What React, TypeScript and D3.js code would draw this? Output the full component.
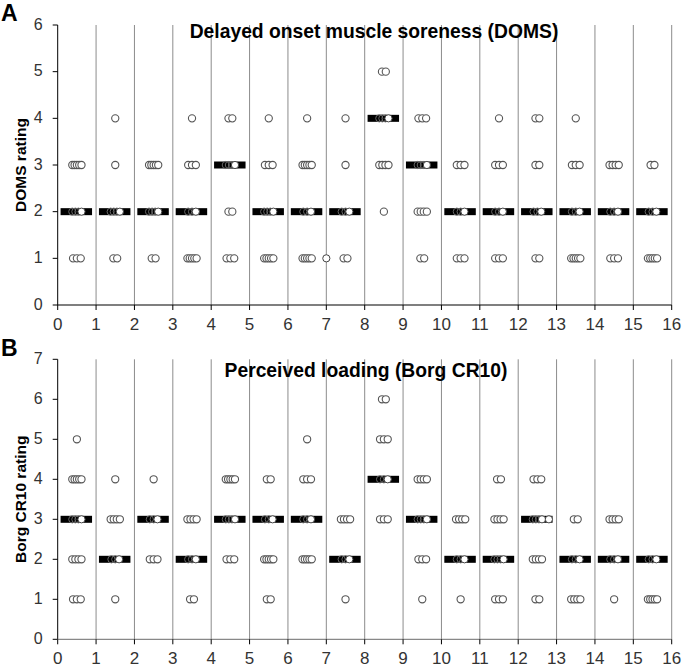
import React from "react";
import * as d3 from "d3";

// ---- data ----
const sessions = d3.range(16); // group index 0..15 (plotted between i and i+1)
const xTicks = d3.range(0, 17);

// counts of participants per rating level (index = rating 0..6)
const domsCounts: number[][] = [
  [0, 3, 4, 5, 0, 0],
  [0, 2, 4, 1, 1, 0],
  [0, 2, 4, 5, 0, 0],
  [0, 5, 3, 3, 1, 0],
  [0, 3, 2, 4, 2, 0],
  [0, 5, 4, 3, 1, 0],
  [0, 5, 3, 5, 1, 0],
  [0, 2, 3, 1, 1, 0],
  [0, 0, 1, 4, 4, 2],
  [0, 2, 4, 4, 3, 0],
  [0, 3, 3, 3, 0, 0],
  [0, 3, 3, 3, 1, 0],
  [0, 2, 3, 2, 2, 0],
  [0, 5, 3, 3, 1, 0],
  [0, 3, 3, 4, 0, 0],
  [0, 5, 3, 2, 0, 0],
];
const domsMedian = [2, 2, 2, 2, 3, 2, 2, 2, 4, 3, 2, 2, 2, 2, 2, 2];
const domsExtraX = [7.0];
const domsExtraY = [1];
const domsYTicks = [0, 1, 2, 3, 4, 5, 6];

const borgCounts: number[][] = [
  [0, 3, 4, 4, 5, 1, 0],
  [0, 1, 3, 4, 1, 0, 0],
  [0, 0, 3, 3, 1, 0, 0],
  [0, 2, 3, 4, 0, 0, 0],
  [0, 0, 3, 4, 5, 0, 0],
  [0, 2, 5, 3, 2, 0, 0],
  [0, 0, 5, 3, 3, 1, 0],
  [0, 1, 3, 4, 0, 0, 0],
  [0, 0, 0, 3, 3, 3, 2],
  [0, 1, 3, 4, 4, 0, 0],
  [0, 1, 3, 4, 0, 0, 0],
  [0, 3, 4, 4, 2, 0, 0],
  [0, 2, 4, 4, 3, 0, 0],
  [0, 4, 3, 2, 0, 0, 0],
  [0, 1, 3, 4, 0, 0, 0],
  [0, 5, 3, 0, 0, 0, 0],
];
const borgMedian = [3, 2, 3, 2, 3, 3, 3, 2, 4, 3, 2, 2, 3, 2, 2, 2];
const borgExtraX = [12.8];
const borgExtraY = [3];
const borgYTicks = [0, 1, 2, 3, 4, 5, 6, 7];

const FONT = "'Liberation Sans', Arial, sans-serif";

type PanelProps = {
  counts: number[][];
  medians: number[];
  extraX: number[];
  extraY: number[];
  yTicks: number[];
  yMax: number;
  top: number;
  bottom: number;
  title: string;
  titleX: number;
  titleY: number;
  yLabel: string;
  letter: string;
  letterY: number;
  xAxisColor: string;
};

function Panel(p: PanelProps) {
  const x = d3.scaleLinear().domain([0, 16]).range([57.7, 671.7]);
  const y = d3.scaleLinear().domain([0, p.yMax]).range([p.bottom, p.top]);
  const r = 3.6;
  const barH = 7;

  const rows: React.ReactNode[] = [];
  sessions.forEach((g) => {
    const med = p.medians[g];
    const bar = (
      <rect
        key={`bar-${g}`}
        x={x(g + 0.075)}
        y={y(med) - barH / 2}
        width={x(g + 0.895) - x(g + 0.075)}
        height={barH}
        fill="#000"
      />
    );
    const circles: React.ReactNode[] = [];
    const onBar: React.ReactNode[] = [];
    p.counts[g].forEach((n, level) => {
      if (n <= 0) return;
      const step = n <= 3 ? 0.1 : 0.24 / (n - 1);
      for (let i = 0; i < n; i++) {
        const cx = x(g + 0.5 + (i - (n - 1) / 2) * step);
        const cy = y(level);
        if (level === med) {
          const last = i === n - 1;
          onBar.push(
            <circle
              key={`c-${g}-${level}-${i}`}
              cx={cx}
              cy={cy}
              r={r}
              fill={last ? "#fff" : "none"}
              stroke={last ? "#444" : "#666"}
              strokeWidth={1}
            />
          );
        } else {
          circles.push(
            <circle
              key={`c-${g}-${level}-${i}`}
              cx={cx}
              cy={cy}
              r={r}
              fill="#fff"
              stroke="#555"
              strokeWidth={1.1}
            />
          );
        }
      }
    });
    rows.push(
      <g key={`g-${g}`}>
        {circles}
        {bar}
        {onBar}
      </g>
    );
  });

  return (
    <g>
      {xTicks.slice(1).map((t) => (
        <line
          key={`grid-${t}`}
          x1={x(t)}
          x2={x(t)}
          y1={y(p.yMax)}
          y2={y(0)}
          stroke="#8c8c8c"
          strokeWidth={1}
        />
      ))}
      <line x1={x(0)} x2={x(0)} y1={y(p.yMax)} y2={y(0)} stroke="#000" strokeWidth={1} />
      {p.yTicks.map((t) => (
        <g key={`yt-${t}`}>
          <line x1={x(0) - 5} x2={x(0)} y1={y(t)} y2={y(t)} stroke="#000" />
          <text
            x={x(0) - 15}
            y={y(t)}
            dy="0.3em"
            textAnchor="end"
            fontFamily={FONT}
            fontSize={16}
            fill="#333"
          >
            {t}
          </text>
        </g>
      ))}
      <line x1={x(0)} x2={x(16)} y1={y(0)} y2={y(0)} stroke={p.xAxisColor} strokeWidth={1.2} />
      {xTicks.map((t) => (
        <g key={`xt-${t}`}>
          <line x1={x(t)} x2={x(t)} y1={y(0)} y2={y(0) + 5} stroke="#000" />
          <text
            x={x(t)}
            y={y(0) + 25}
            textAnchor="middle"
            fontFamily={FONT}
            fontSize={17}
            fill="#333"
          >
            {t}
          </text>
        </g>
      ))}
      {rows}
      {p.extraX.map((ex, i) => (
        <circle
          key={`ex-${i}`}
          cx={x(ex)}
          cy={y(p.extraY[i])}
          r={r}
          fill="#fff"
          stroke="#444"
          strokeWidth={1}
        />
      ))}
      <text
        x={p.titleX}
        y={p.titleY}
        textAnchor="middle"
        fontFamily={FONT}
        fontWeight="bold"
        fontSize={19.3}
        fill="#000"
      >
        {p.title}
      </text>
      <text
        transform={`translate(26, ${(y(0) + y(p.yMax)) / 2}) rotate(-90)`}
        textAnchor="middle"
        fontFamily={FONT}
        fontWeight="bold"
        fontSize={15.5}
        fill="#000"
      >
        {p.yLabel}
      </text>
      <text x={1} y={p.letterY} fontFamily={FONT} fontWeight="bold" fontSize={23} fill="#000">
        {p.letter}
      </text>
    </g>
  );
}

export default function App() {
  return (
    <svg
      width={687}
      height={669}
      style={{ position: "absolute", left: 0, top: 0, background: "#fff" }}
    >
      <rect width={687} height={669} fill="#fff" />
      <Panel
        counts={domsCounts}
        medians={domsMedian}
        extraX={domsExtraX}
        extraY={domsExtraY}
        yTicks={domsYTicks}
        yMax={6}
        top={25}
        bottom={305}
        title="Delayed onset muscle soreness (DOMS)"
        titleX={374}
        titleY={37.5}
        yLabel="DOMS rating"
        letter="A"
        letterY={21}
        xAxisColor="#000"
      />
      <Panel
        counts={borgCounts}
        medians={borgMedian}
        extraX={borgExtraX}
        extraY={borgExtraY}
        yTicks={borgYTicks}
        yMax={7}
        top={359.3}
        bottom={639.3}
        title="Perceived loading (Borg CR10)"
        titleX={366}
        titleY={377}
        yLabel="Borg CR10 rating"
        letter="B"
        letterY={356}
        xAxisColor="#888"
      />
    </svg>
  );
}
